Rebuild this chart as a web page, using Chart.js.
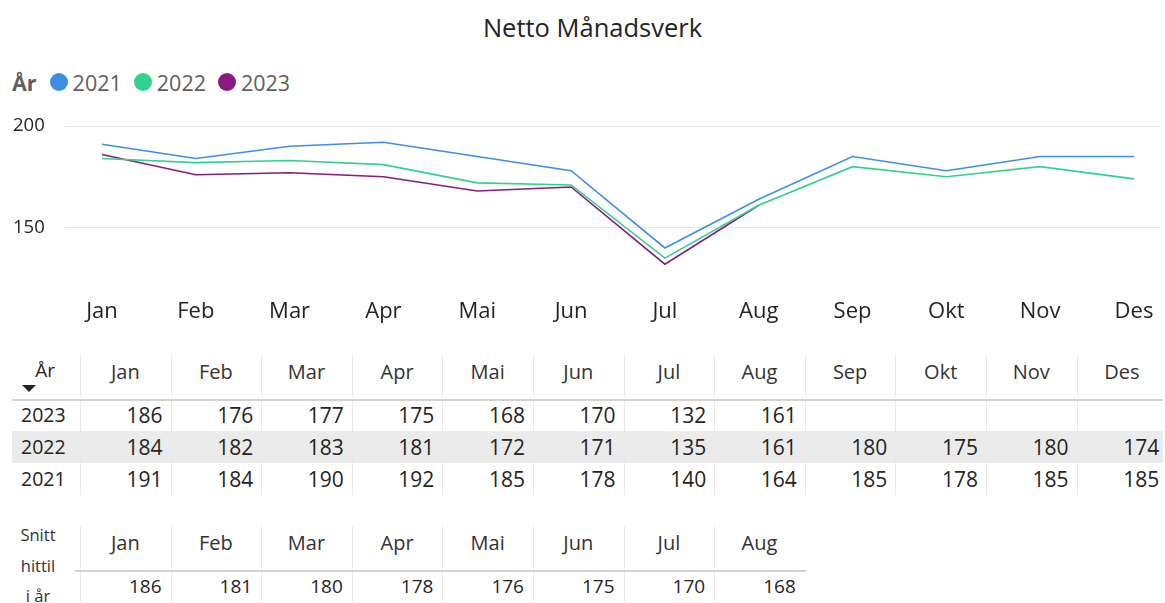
<!DOCTYPE html>
<html>
<head>
<meta charset="utf-8">
<script src="https://cdn.jsdelivr.net/npm/chart.js@4.4.0/dist/chart.umd.min.js"></script>
<style>
body{margin:0;background:#fff;font-family:"Open Sans",sans-serif;color:#252423;width:1165px;height:603px;overflow:hidden;position:relative}
#title{position:absolute;left:0;width:1185px;top:10px;text-align:center;font-size:25.5px;color:#252423}
#legend{position:absolute;left:12px;top:67px;font-size:21.5px;color:#605e5c;display:flex;align-items:center;height:30px}
#legend b{font-weight:700;margin-right:13px}
#legend .item{display:flex;align-items:center;margin-right:12px}
#legend .dot{width:18px;height:18px;border-radius:50%;margin-right:5px}
#chartBox{position:absolute;left:0;top:100px}
.cell{position:absolute;box-sizing:border-box;white-space:nowrap}
.vline{position:absolute;width:1px;background:#ebe8e6}
.hline{position:absolute;height:2px;background:#d6d2cf}
.tri{position:absolute;width:0;height:0;border-left:7px solid transparent;border-right:7px solid transparent;border-top:7px solid #252423}
</style>
</head>
<body>
<div id="title">Netto Månadsverk</div>
<div id="legend"></div>
<div id="chartBox"><canvas id="myChart" width="1165" height="240"></canvas></div>
<div id="tables"></div>
<script>
months = ["Jan","Feb","Mar","Apr","Mai","Jun","Jul","Aug","Sep","Okt","Nov","Des"];
years = ["2021","2022","2023"];
values2021 = [191,184,190,192,185,178,140,164,185,178,185,185];
values2022 = [184,182,183,181,172,171,135,161,180,175,180,174];
values2023 = [186,176,177,175,168,170,132,161];
snittHittil = [186,181,180,178,176,175,170,168];
yTicks = [150,200];
colors = ["#3d8fe6","#33d18f","#8b1a7e"];

const seriesByYear = [values2021, values2022, values2023];

// legend
const legend = document.getElementById("legend");
legend.innerHTML = "<b>År</b>";
years.forEach((y,i)=>{
  legend.innerHTML += '<span class="item"><span class="dot" style="background:'+colors[i]+'"></span>'+y+'</span>';
});

const toPoints = arr => arr.map((v,i)=>({x:i,y:v}));

new Chart(document.getElementById("myChart"), {
  type: "line",
  data: {
    datasets: years.map((y,i)=>({
      label: y,
      data: toPoints(seriesByYear[i]),
      borderColor: colors[i],
      backgroundColor: colors[i],
      borderWidth: 1.6,
      pointRadius: 0,
      tension: 0
    }))
  },
  options: {
    responsive: false,
    animation: false,
    devicePixelRatio: 1,
    layout: {padding: {left: 13, right: 5, top: 26, bottom: 13}},
    plugins: {legend: {display: false}, title: {display: false}, tooltip: {enabled: false}},
    scales: {
      x: {
        type: "linear",
        min: -0.394,
        max: 11.277,
        afterBuildTicks: s => { s.ticks = months.map((m,i)=>({value:i})); },
        ticks: {
          callback: v => months[v],
          font: {family: "Open Sans", size: 22},
          color: "#252423",
          padding: 2,
          maxRotation: 0,
          autoSkip: false
        },
        grid: {display: false},
        border: {display: false}
      },
      y: {
        min: 120,
        max: 200,
        afterBuildTicks: s => { s.ticks = yTicks.map(v=>({value:v})); },
        afterFit: s => { s.width = 52; },
        ticks: {
          font: {family: "Open Sans", size: 18.5},
          color: "#252423",
          padding: 2,
          crossAlign: "far"
        },
        grid: {color: "#e6e6e6", drawTicks: false},
        border: {display: false}
      }
    }
  }
});

// tables
const tables = document.getElementById("tables");
const colLeft = 80, colW = 90.6;
function add(html){ tables.insertAdjacentHTML("beforeend", html); }
function cell(x,y,w,h,text,style){
  add('<div class="cell" style="left:'+x+'px;top:'+y+'px;width:'+w+'px;height:'+h+'px;'+style+'">'+text+'</div>');
}

// table 1
const t1Top = 352, t1HeadH = 47, rowH = 32;
const rowOrder = [2,1,0]; // 2023, 2022, 2021
const bodyTop = t1Top + t1HeadH;
add('<div class="hline" style="left:12px;top:'+bodyTop+'px;width:1151px"></div>');
add('<div style="position:absolute;left:12px;top:'+(bodyTop+rowH)+'px;width:1151px;height:'+rowH+'px;background:#ebebeb"></div>');
cell(22,t1Top+3,33,30,"År","text-align:right;font-size:19px;line-height:30px");
add('<div class="tri" style="left:22px;top:385px"></div>');
months.forEach((m,i)=>{
  const x = colLeft + i*colW;
  cell(x,t1Top+5,colW,30,m,"text-align:center;font-size:20px;line-height:30px;color:#333");
  add('<div class="vline" style="left:'+Math.round(x)+'px;top:'+(t1Top+3)+'px;height:'+(t1HeadH-6)+'px"></div>');
  add('<div class="vline" style="left:'+Math.round(x)+'px;top:'+(bodyTop+2)+'px;height:'+(rowH*3-2)+'px"></div>');
});
rowOrder.forEach((yi,r)=>{
  const y = bodyTop+r*rowH;
  cell(18,y,62,rowH,years[yi],"font-size:19.5px;line-height:"+rowH+"px;padding-left:3px");
  seriesByYear[yi].forEach((v,i)=>{
    cell(colLeft+i*colW,y,colW,rowH,v,"text-align:right;padding-right:8px;font-size:21px;line-height:"+rowH+"px;color:#252423");
  });
});

// table 2
const t2Top = 524, t2HeadH = 46;
cell(5,t2Top-4,66,93,"Snitt<br>hittil<br>i år","text-align:center;font-size:16.5px;line-height:30.5px;color:#333");
add('<div class="hline" style="left:75px;top:'+(t2Top+t2HeadH)+'px;width:731px"></div>');
snittHittil.forEach((v,i)=>{
  const x = colLeft + i*colW;
  cell(x,t2Top+4,colW,30,months[i],"text-align:center;font-size:20px;line-height:30px;color:#333");
  cell(x,t2Top+t2HeadH+1,colW,30,v,"text-align:right;padding-right:9px;font-size:19px;line-height:30px");
  add('<div class="vline" style="left:'+Math.round(x)+'px;top:'+(t2Top+2)+'px;height:'+(t2HeadH-4)+'px"></div>');
  add('<div class="vline" style="left:'+Math.round(x)+'px;top:'+(t2Top+t2HeadH+2)+'px;height:30px"></div>');
});
</script>
</body>
</html>
